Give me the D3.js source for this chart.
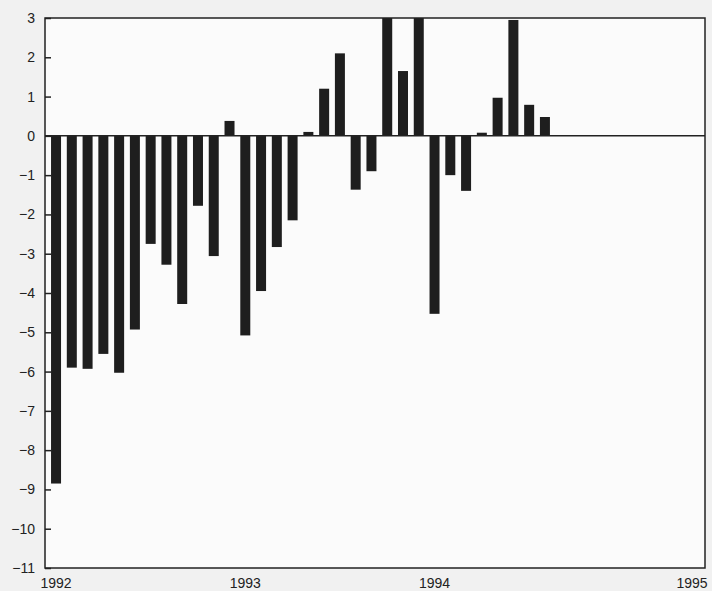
<!DOCTYPE html>
<html>
<head>
<meta charset="utf-8">
<script src="https://cdn.jsdelivr.net/npm/d3@7"></script>
<style>
  html, body { margin: 0; padding: 0; background: #f1f1f1; }
  svg { display: block; }
  text { font-family: "Liberation Sans", Arial, sans-serif; fill: #222; }
</style>
</head>
<body>
<svg id="chart" width="712" height="591"></svg>
<script>
// Monthly values, Jan 1992 .. Aug 1994
const months = d3.range(32);
const values = [
  -8.85, -5.9, -5.93, -5.55, -6.03, -4.93, -2.75, -3.28, -4.28, -1.78, -3.06, 0.38,
  -5.08, -3.95, -2.83, -2.15, 0.1, 1.2, 2.1, -1.37, -0.9, 3.3, 1.65, 3.4,
  -4.53, -1.0, -1.4, 0.08, 0.97, 2.95, 0.79, 0.48
];
const yearLabels = ["1992", "1993", "1994", "1995"];
const yearStarts = [0, 12, 24, 36];
const yTicks = d3.range(-11, 4);

const W = 712, H = 591;
const L = 45, T = 18, R = 705, B = 568;

const svg = d3.select("#chart");

const x = d3.scaleLinear().domain([-0.7, 41.15]).range([L, R]);
const y = d3.scaleLinear().domain([-11, 3]).range([B, T]);
const barW = 10;

// plot background
svg.append("rect").attr("x", L).attr("y", T).attr("width", R - L).attr("height", B - T)
  .attr("fill", "#fbfbfb");

const clip = svg.append("clipPath").attr("id", "clip");
clip.append("rect").attr("x", L).attr("y", T).attr("width", R - L).attr("height", B - T);

// bars
svg.append("g").attr("clip-path", "url(#clip)")
  .selectAll("rect").data(months).join("rect")
  .attr("x", i => x(i) - barW / 2)
  .attr("width", barW)
  .attr("y", i => y(Math.max(0, values[i])))
  .attr("height", i => Math.abs(y(values[i]) - y(0)))
  .attr("fill", "#1e1e1e");

// zero line
svg.append("line").attr("x1", L).attr("x2", R).attr("y1", y(0)).attr("y2", y(0))
  .attr("stroke", "#222").attr("stroke-width", 1.5);

// frame
svg.append("rect").attr("x", L).attr("y", T).attr("width", R - L).attr("height", B - T)
  .attr("fill", "none").attr("stroke", "#222").attr("stroke-width", 1.5);

// y axis (ticks inward)
const yAxis = d3.axisLeft(y).tickValues(yTicks).tickSizeInner(-6).tickSizeOuter(0).tickPadding(10)
  .tickFormat(d3.format("d"));
const gy = svg.append("g").attr("transform", `translate(${L},0)`).call(yAxis);
gy.select(".domain").remove();
gy.selectAll(".tick line").attr("stroke", "#222").attr("stroke-width", 1.5);
gy.selectAll(".tick text").attr("font-size", 14).style("font-family", "'Liberation Sans', Arial, sans-serif").attr("fill", "#222");

// x labels
svg.append("g").selectAll("text").data(yearLabels).join("text")
  .attr("x", (d, i) => i < yearLabels.length - 1 ? x(yearStarts[i]) : R - 13)
  .attr("y", 588)
  .attr("text-anchor", "middle")
  .attr("font-size", 14)
  .text(d => d);
</script>
</body>
</html>
